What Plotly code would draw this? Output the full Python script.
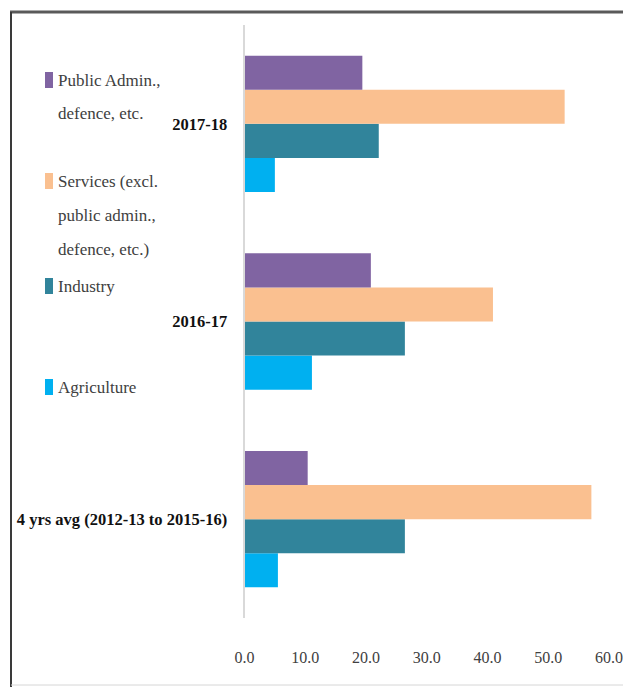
import plotly.graph_objects as go

# ---- data ----
categories = ["4 yrs avg (2012-13 to 2015-16)", "2016-17", "2017-18"]
agriculture = [5.5, 11.1, 5.0]
industry = [26.4, 26.4, 22.1]
services = [57.1, 40.9, 52.7]
public_admin = [10.4, 20.8, 19.4]

series_names = ["Agriculture", "Industry",
                "Services (excl. public admin., defence, etc.)",
                "Public Admin., defence, etc."]
series_values = [agriculture, industry, services, public_admin]
series_colors = ["#00B0F0", "#31849B", "#FAC090", "#8064A2"]

x_ticks = [0, 10, 20, 30, 40, 50, 60]

# legend lines (as displayed, top to bottom)
legend_entries = [
    ("#8064A2", ["Public Admin.,", "defence, etc."]),
    ("#FAC090", ["Services (excl.", "public admin.,", "defence, etc.)"]),
    ("#31849B", ["Industry"]),
    ("#00B0F0", ["Agriculture"]),
]

W, H = 623, 687
FONT = "Liberation Serif, Times New Roman, serif"

fig = go.Figure()
for name, vals, col in zip(series_names, series_values, series_colors):
    fig.add_trace(go.Bar(
        y=categories, x=vals, name=name, orientation="h",
        marker=dict(color=col, line=dict(width=0)),
        showlegend=False,
    ))

def px_x(p):
    return p / W

def px_y(p):
    return 1 - p / H

shapes = []
annotations = []
entry_tops = [80, 181, 286, 387]
line_step = 34
for (col, lines), ytop in zip(legend_entries, entry_tops):
    shapes.append(dict(type="rect", xref="paper", yref="paper",
                       x0=px_x(45), x1=px_x(53),
                       y0=px_y(ytop - 8), y1=px_y(ytop + 8),
                       fillcolor=col, line=dict(width=0)))
    for i, ln in enumerate(lines):
        annotations.append(dict(
            text=ln, xref="paper", yref="paper",
            x=px_x(56), y=px_y(ytop + i * line_step),
            xanchor="left", yanchor="middle", showarrow=False,
            font=dict(family=FONT, size=17, color="#404040")))

# outer frame
shapes.append(dict(type="line", xref="paper", yref="paper",
                   x0=px_x(10), x1=px_x(630), y0=px_y(12), y1=px_y(12),
                   line=dict(color="#5a5a5a", width=3)))
shapes.append(dict(type="line", xref="paper", yref="paper",
                   x0=px_x(11), x1=px_x(11), y0=px_y(12), y1=px_y(700),
                   line=dict(color="#3a3a3a", width=2)))
shapes.append(dict(type="line", xref="paper", yref="paper",
                   x0=px_x(11), x1=px_x(630), y0=px_y(685), y1=px_y(685),
                   line=dict(color="#d6d6d6", width=1)))

fig.update_layout(
    width=W, height=H,
    margin=dict(l=0, r=0, t=0, b=0),
    paper_bgcolor="white", plot_bgcolor="white",
    barmode="group", bargap=0.31, bargroupgap=0,
    showlegend=False,
    shapes=shapes, annotations=annotations,
    xaxis=dict(
        domain=[px_x(244.5), px_x(609)],
        range=[0, 60], tickvals=x_ticks, tickformat=".1f",
        showgrid=False, zeroline=False, showline=False, ticks="",
        ticklabelstandoff=28, ticklabeloverflow="allow",
        tickfont=dict(family=FONT, size=16, color="#404040"),
        automargin=False, fixedrange=True,
    ),
    yaxis=dict(
        domain=[px_y(618), px_y(25)],
        categoryorder="array", categoryarray=categories,
        showgrid=False, zeroline=False,
        showline=True, linecolor="#d9d9d9", linewidth=2,
        ticks="", ticklabelstandoff=12,
        tickfont=dict(family=FONT, size=16.5, color="#111111", weight="bold"),
        automargin=False, fixedrange=True,
    ),
)

fig.write_html(
    "out.html",
    config={"displayModeBar": False},
    post_script="document.body.style.margin='0';document.body.style.overflow='hidden';",
)
